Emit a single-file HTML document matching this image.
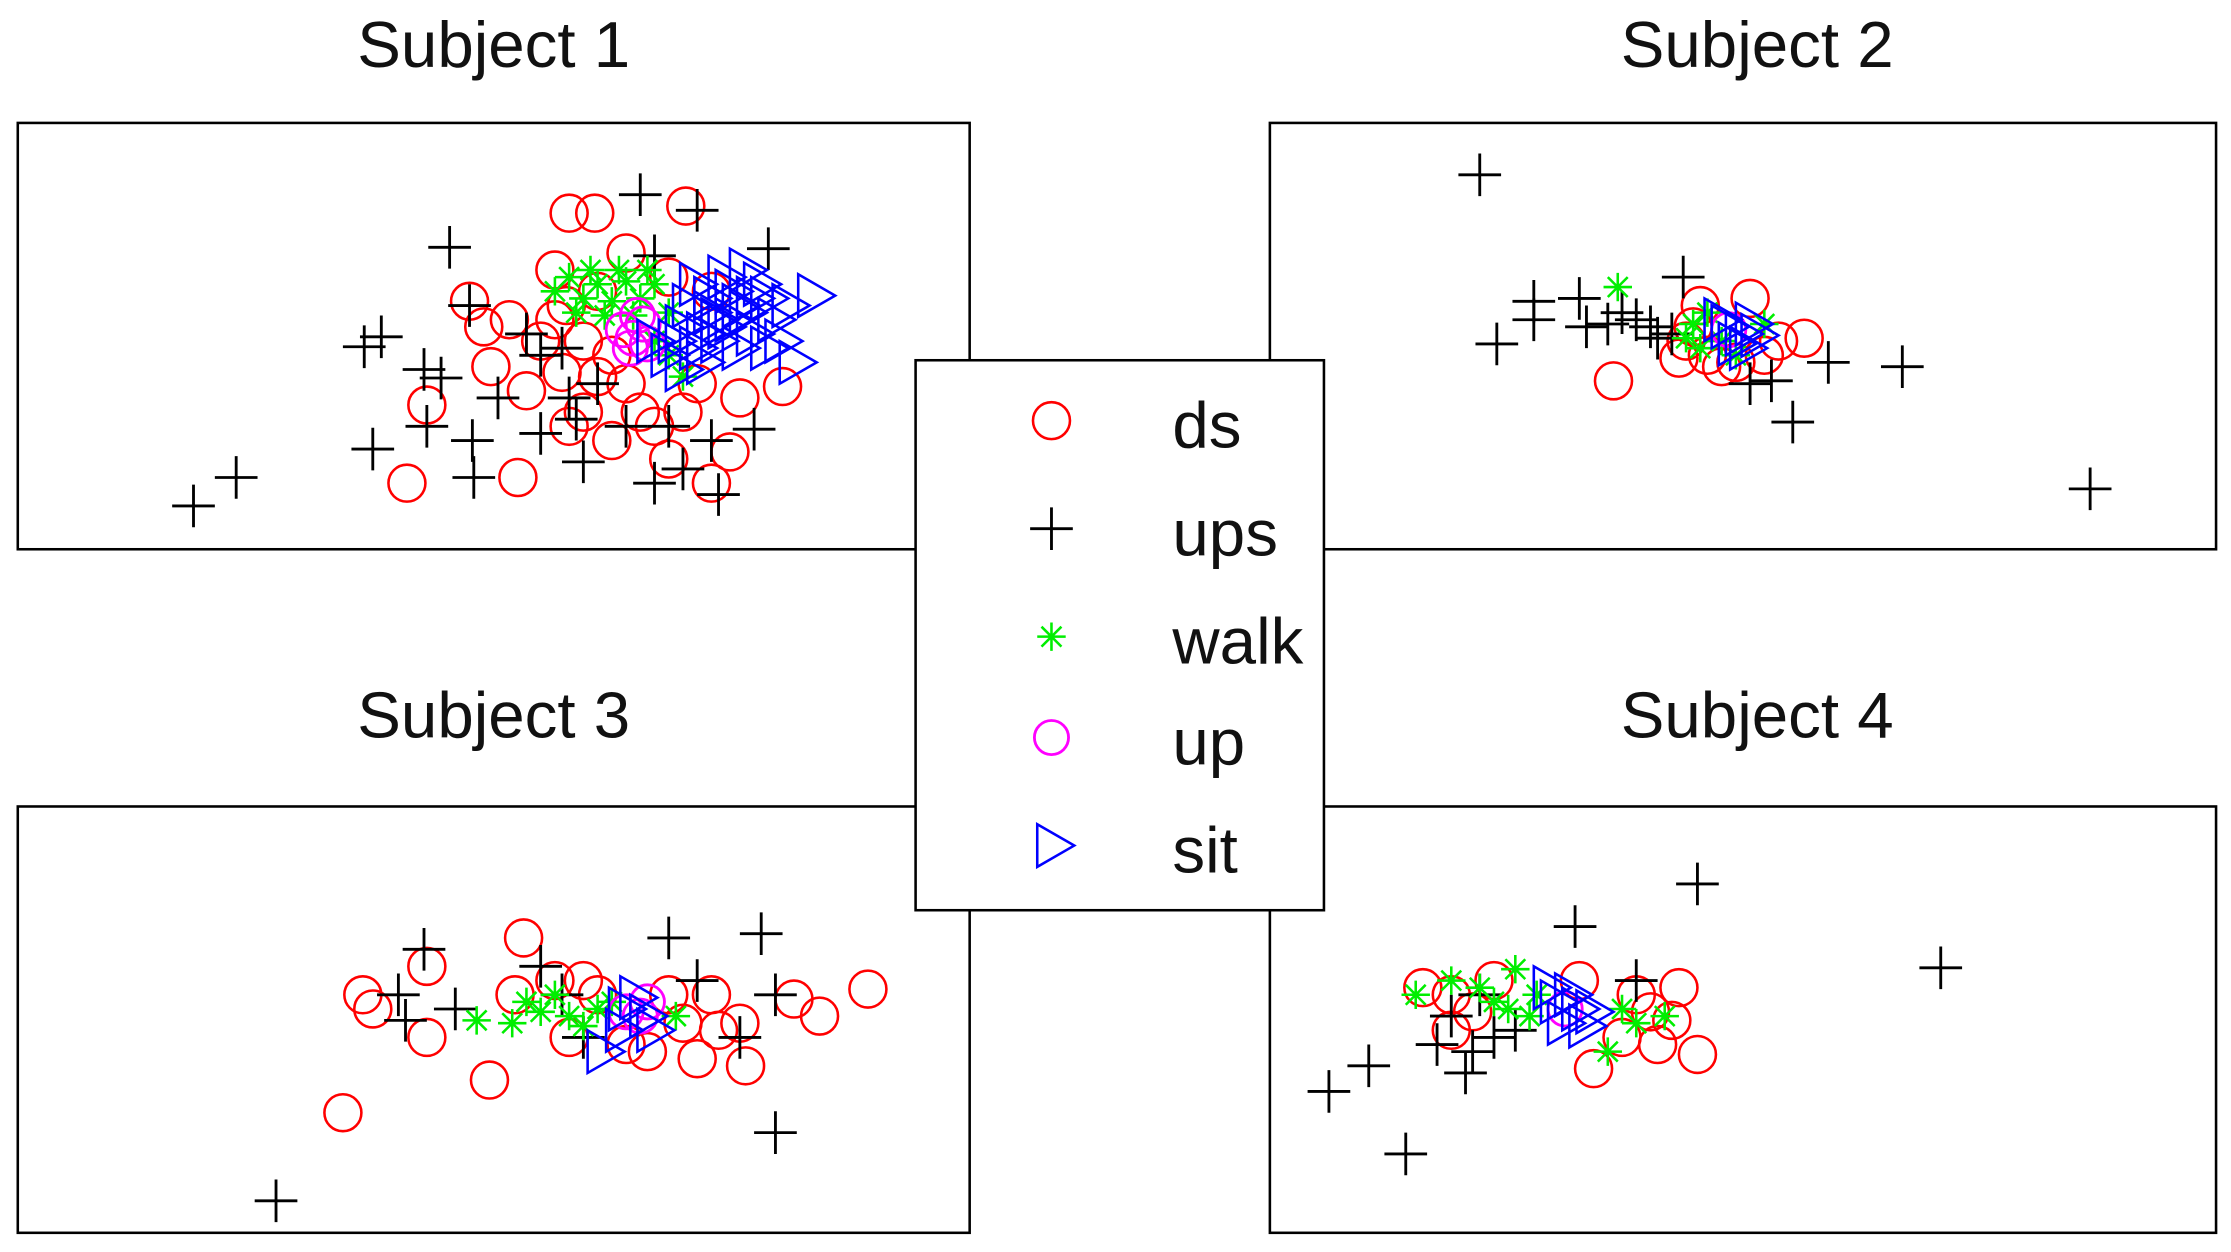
<!DOCTYPE html>
<html><head><meta charset="utf-8"><style>
html,body{margin:0;padding:0;background:#fff;width:2231px;height:1252px;overflow:hidden}
svg{display:block}
text{font-family:"Liberation Sans",sans-serif;fill:#111}
</style></head><body>
<svg width="2231" height="1252" viewBox="0 0 1568 881" preserveAspectRatio="none" xmlns="http://www.w3.org/2000/svg">
<defs>
<g id="c"><circle cx="0" cy="0" r="13" fill="none" stroke="#f00" stroke-width="1.8"/></g>
<g id="p"><path d="M-15 0H15M0 -15V15" stroke="#000" stroke-width="2"/></g>
<g id="s"><path d="M-10 0H10M0 -10V10M-7 -7L7 7M-7 7L7 -7" stroke="#0e0" stroke-width="1.8"/></g>
<g id="m"><circle cx="0" cy="0" r="12" fill="none" stroke="#f0f" stroke-width="2"/></g>
<g id="t"><path d="M-12 -15L14 0L-12 15Z" fill="none" stroke="#00f" stroke-width="1.8"/></g>
</defs>
<rect width="1568" height="881" fill="#fff"/>
<text x="347" y="47" font-size="46" text-anchor="middle">Subject 1</text>
<text x="1235" y="47" font-size="46" text-anchor="middle">Subject 2</text>
<text x="347" y="519" font-size="46" text-anchor="middle">Subject 3</text>
<text x="1235" y="519" font-size="46" text-anchor="middle">Subject 4</text>
<rect x="12.5" y="86.5" width="669" height="300" fill="#fff" stroke="#000" stroke-width="1.8"/>
<rect x="892.5" y="86.5" width="665" height="300" fill="#fff" stroke="#000" stroke-width="1.8"/>
<rect x="12.5" y="567.5" width="669" height="300" fill="#fff" stroke="#000" stroke-width="1.8"/>
<rect x="892.5" y="567.5" width="665" height="300" fill="#fff" stroke="#000" stroke-width="1.8"/>
<!-- Panel 1 -->
<g>
<use href="#c" x="400" y="150"/><use href="#c" x="418" y="150"/><use href="#c" x="482" y="145"/><use href="#c" x="440" y="178"/>
<use href="#c" x="390" y="190"/><use href="#c" x="330" y="212"/><use href="#c" x="358" y="225"/><use href="#c" x="345" y="258"/>
<use href="#c" x="380" y="240"/><use href="#c" x="398" y="215"/><use href="#c" x="420" y="205"/><use href="#c" x="470" y="195"/>
<use href="#c" x="500" y="205"/><use href="#c" x="370" y="275"/><use href="#c" x="300" y="285"/><use href="#c" x="410" y="290"/>
<use href="#c" x="440" y="270"/><use href="#c" x="480" y="290"/><use href="#c" x="520" y="280"/><use href="#c" x="550" y="272"/>
<use href="#c" x="286" y="340"/><use href="#c" x="364" y="336"/><use href="#c" x="470" y="323"/><use href="#c" x="500" y="340"/>
<use href="#c" x="513" y="318"/><use href="#c" x="430" y="250"/><use href="#c" x="395" y="262"/><use href="#c" x="460" y="300"/>
<use href="#c" x="410" y="240"/><use href="#c" x="420" y="265"/><use href="#c" x="400" y="300"/><use href="#c" x="450" y="290"/>
<use href="#c" x="430" y="310"/><use href="#c" x="390" y="225"/><use href="#c" x="340" y="230"/><use href="#c" x="490" y="270"/>
<use href="#p" x="316" y="174"/><use href="#p" x="450" y="137"/><use href="#p" x="490" y="148"/><use href="#p" x="256" y="244"/>
<use href="#p" x="268" y="237"/><use href="#p" x="298" y="260"/><use href="#p" x="310" y="266"/><use href="#p" x="330" y="215"/>
<use href="#p" x="350" y="280"/><use href="#p" x="262" y="316"/><use href="#p" x="332" y="310"/><use href="#p" x="333" y="336"/>
<use href="#p" x="166" y="336"/><use href="#p" x="136" y="356"/><use href="#p" x="380" y="305"/><use href="#p" x="410" y="325"/>
<use href="#p" x="460" y="340"/><use href="#p" x="505" y="348"/><use href="#p" x="380" y="250"/><use href="#p" x="400" y="280"/>
<use href="#p" x="460" y="180"/><use href="#p" x="440" y="300"/><use href="#p" x="480" y="330"/><use href="#p" x="530" y="302"/>
<use href="#p" x="540" y="175"/><use href="#p" x="300" y="300"/><use href="#p" x="370" y="235"/><use href="#p" x="395" y="245"/>
<use href="#p" x="405" y="295"/><use href="#p" x="420" y="270"/><use href="#p" x="470" y="300"/><use href="#p" x="500" y="310"/>
<g>
<use href="#s" x="390" y="205"/><use href="#s" x="400" y="195"/><use href="#s" x="410" y="210"/><use href="#s" x="420" y="200"/>
<use href="#s" x="430" y="212"/><use href="#s" x="440" y="198"/><use href="#s" x="450" y="210"/><use href="#s" x="460" y="200"/>
<use href="#s" x="405" y="220"/><use href="#s" x="425" y="222"/><use href="#s" x="445" y="222"/><use href="#s" x="415" y="190"/>
<use href="#s" x="435" y="190"/><use href="#s" x="455" y="190"/><use href="#s" x="470" y="250"/><use href="#s" x="480" y="265"/>
<use href="#s" x="460" y="240"/><use href="#s" x="470" y="220"/>
</g>
<use href="#m" x="438" y="232"/><use href="#m" x="445" y="238"/><use href="#m" x="452" y="228"/><use href="#m" x="443" y="245"/><use href="#m" x="455" y="242"/><use href="#m" x="448" y="222"/>
<use href="#t" x="490" y="200"/><use href="#t" x="510" y="195"/><use href="#t" x="525" y="190"/><use href="#t" x="500" y="220"/>
<use href="#t" x="520" y="215"/><use href="#t" x="540" y="210"/><use href="#t" x="480" y="230"/><use href="#t" x="505" y="240"/>
<use href="#t" x="530" y="235"/><use href="#t" x="470" y="250"/><use href="#t" x="495" y="255"/><use href="#t" x="550" y="240"/>
<use href="#t" x="560" y="255"/><use href="#t" x="573" y="208"/><use href="#t" x="460" y="240"/><use href="#t" x="515" y="225"/>
<use href="#t" x="485" y="215"/><use href="#t" x="495" y="235"/><use href="#t" x="510" y="230"/><use href="#t" x="525" y="220"/>
<use href="#t" x="535" y="200"/><use href="#t" x="545" y="225"/><use href="#t" x="490" y="245"/><use href="#t" x="475" y="240"/>
<use href="#t" x="515" y="205"/><use href="#t" x="500" y="210"/><use href="#t" x="520" y="245"/><use href="#t" x="480" y="260"/>
<use href="#t" x="505" y="225"/><use href="#t" x="530" y="210"/><use href="#t" x="540" y="245"/><use href="#t" x="555" y="215"/>
</g>
<!-- Panel 2 -->
<g>
<use href="#c" x="1134" y="268"/><use href="#c" x="1180" y="252"/><use href="#c" x="1190" y="230"/><use href="#c" x="1230" y="210"/>
<use href="#c" x="1250" y="240"/><use href="#c" x="1268" y="238"/><use href="#c" x="1200" y="250"/><use href="#c" x="1220" y="255"/>
<use href="#c" x="1185" y="240"/><use href="#c" x="1240" y="250"/><use href="#c" x="1195" y="215"/><use href="#c" x="1210" y="258"/>
<use href="#p" x="1040" y="123"/><use href="#p" x="1052" y="242"/><use href="#p" x="1078" y="212"/><use href="#p" x="1078" y="225"/>
<use href="#p" x="1110" y="210"/><use href="#p" x="1115" y="230"/><use href="#p" x="1140" y="220"/><use href="#p" x="1160" y="230"/>
<use href="#p" x="1183" y="195"/><use href="#p" x="1230" y="270"/><use href="#p" x="1260" y="297"/><use href="#p" x="1285" y="255"/>
<use href="#p" x="1337" y="258"/><use href="#p" x="1469" y="344"/><use href="#p" x="1175" y="235"/><use href="#p" x="1130" y="228"/>
<use href="#p" x="1150" y="225"/><use href="#p" x="1165" y="238"/><use href="#p" x="1245" y="268"/>
<use href="#s" x="1137" y="202"/><use href="#s" x="1190" y="228"/><use href="#s" x="1200" y="220"/><use href="#s" x="1210" y="240"/>
<use href="#s" x="1240" y="228"/><use href="#s" x="1220" y="250"/><use href="#s" x="1185" y="238"/><use href="#s" x="1195" y="245"/>
<use href="#m" x="1215" y="232"/>
<use href="#t" x="1215" y="230"/><use href="#t" x="1225" y="235"/><use href="#t" x="1232" y="228"/><use href="#t" x="1220" y="242"/>
<use href="#t" x="1210" y="225"/><use href="#t" x="1228" y="245"/><use href="#t" x="1236" y="236"/>
</g>
<!-- Panel 3 -->
<g>
<use href="#c" x="255" y="700"/><use href="#c" x="262" y="710"/><use href="#c" x="300" y="680"/><use href="#c" x="300" y="730"/>
<use href="#c" x="368" y="660"/><use href="#c" x="344" y="760"/><use href="#c" x="241" y="783"/><use href="#c" x="362" y="700"/>
<use href="#c" x="390" y="690"/><use href="#c" x="420" y="700"/><use href="#c" x="455" y="740"/><use href="#c" x="490" y="745"/>
<use href="#c" x="500" y="700"/><use href="#c" x="520" y="720"/><use href="#c" x="524" y="750"/><use href="#c" x="558" y="703"/>
<use href="#c" x="576" y="715"/><use href="#c" x="610" y="696"/><use href="#c" x="470" y="700"/><use href="#c" x="400" y="730"/>
<use href="#c" x="480" y="720"/><use href="#c" x="505" y="725"/><use href="#c" x="440" y="735"/><use href="#c" x="410" y="690"/>
<use href="#p" x="298" y="668"/><use href="#p" x="280" y="700"/><use href="#p" x="285" y="718"/><use href="#p" x="320" y="710"/>
<use href="#p" x="380" y="680"/><use href="#p" x="470" y="660"/><use href="#p" x="535" y="657"/><use href="#p" x="545" y="700"/>
<use href="#p" x="520" y="730"/><use href="#p" x="545" y="797"/><use href="#p" x="194" y="845"/><use href="#p" x="410" y="730"/>
<use href="#p" x="490" y="690"/><use href="#p" x="395" y="700"/>
<use href="#s" x="335" y="718"/><use href="#s" x="360" y="720"/><use href="#s" x="380" y="712"/><use href="#s" x="400" y="715"/>
<use href="#s" x="420" y="710"/><use href="#s" x="390" y="700"/><use href="#s" x="475" y="715"/><use href="#s" x="370" y="705"/>
<use href="#s" x="410" y="722"/><use href="#s" x="430" y="705"/>
<use href="#m" x="440" y="712"/><use href="#m" x="450" y="715"/><use href="#m" x="455" y="705"/>
<use href="#t" x="440" y="710"/><use href="#t" x="455" y="715"/><use href="#t" x="425" y="740"/><use href="#t" x="460" y="725"/>
<use href="#t" x="448" y="702"/><use href="#t" x="438" y="725"/>
</g>
<!-- Panel 4 -->
<g>
<use href="#c" x="1000" y="695"/><use href="#c" x="1020" y="700"/><use href="#c" x="1050" y="690"/><use href="#c" x="1110" y="690"/>
<use href="#c" x="1150" y="700"/><use href="#c" x="1180" y="695"/><use href="#c" x="1193" y="742"/><use href="#c" x="1165" y="735"/>
<use href="#c" x="1120" y="752"/><use href="#c" x="1140" y="730"/><use href="#c" x="1020" y="725"/><use href="#c" x="1175" y="718"/>
<use href="#c" x="1160" y="712"/><use href="#c" x="1035" y="712"/>
<use href="#p" x="1193" y="622"/><use href="#p" x="1107" y="652"/><use href="#p" x="1364" y="681"/><use href="#p" x="934" y="768"/>
<use href="#p" x="962" y="750"/><use href="#p" x="988" y="812"/><use href="#p" x="1010" y="735"/><use href="#p" x="1030" y="755"/>
<use href="#p" x="1040" y="700"/><use href="#p" x="1150" y="690"/><use href="#p" x="1050" y="730"/><use href="#p" x="1020" y="715"/>
<use href="#p" x="1065" y="725"/><use href="#p" x="1035" y="740"/>
<use href="#s" x="995" y="700"/><use href="#s" x="1040" y="695"/><use href="#s" x="1065" y="682"/><use href="#s" x="1060" y="710"/>
<use href="#s" x="1080" y="700"/><use href="#s" x="1150" y="720"/><use href="#s" x="1170" y="715"/><use href="#s" x="1130" y="740"/>
<use href="#s" x="1050" y="705"/><use href="#s" x="1075" y="715"/><use href="#s" x="1140" y="710"/><use href="#s" x="1020" y="690"/>
<use href="#m" x="1100" y="710"/>
<use href="#t" x="1095" y="705"/><use href="#t" x="1110" y="710"/><use href="#t" x="1120" y="712"/><use href="#t" x="1100" y="720"/>
<use href="#t" x="1090" y="695"/><use href="#t" x="1105" y="700"/><use href="#t" x="1115" y="722"/>
</g>
<!-- Legend -->
<rect x="643.5" y="253.5" width="287" height="387" fill="#fff" stroke="#000" stroke-width="1.8"/>
<use href="#c" x="739" y="296"/>
<use href="#p" x="739" y="372"/>
<use href="#s" x="739" y="448"/>
<use href="#m" x="739" y="519"/>
<use href="#t" x="741" y="595"/>
<text x="824" y="315" font-size="46">ds</text>
<text x="824" y="391" font-size="46">ups</text>
<text x="824" y="467" font-size="46">walk</text>
<text x="824" y="538" font-size="46">up</text>
<text x="824" y="614" font-size="46">sit</text>
</svg>
</body></html>
